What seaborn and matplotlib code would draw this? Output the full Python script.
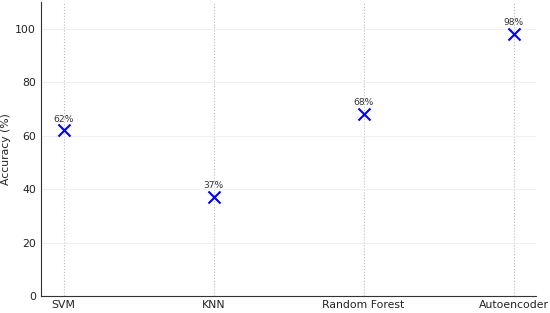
import matplotlib
matplotlib.use("Agg")
import matplotlib.pyplot as plt
import seaborn as sns
import pandas as pd

models = ["SVM", "KNN", "Random Forest", "Autoencoder"]
accuracy = [62, 37, 68, 98]
labels = ["62%", "37%", "68%", "98%"]

sns.set_style("white")
plt.rcParams['font.family'] = ['DejaVu Sans']

df = pd.DataFrame({"Model": models, "Accuracy": accuracy})

fig = plt.figure(figsize=(5.5, 3.13), dpi=100)
ax = fig.add_axes([41/550, 1-296/313, (536-41)/550, (296-2.3)/313])

sns.scatterplot(data=df, x="Model", y="Accuracy", marker="x", s=75,
                color="blue", linewidth=1.5, ax=ax, zorder=3)

for i, (m, v, t) in enumerate(zip(models, accuracy, labels)):
    ax.annotate(t, (i, v), xytext=(0, 5), textcoords="offset points",
                ha="center", va="bottom", fontsize=6.6, color="#333333")

ax.set_xlim(-0.15, 3.15)
ax.set_ylim(0, 110)
ax.set_yticks([0, 20, 40, 60, 80, 100])
ax.set_xlabel("")
ax.set_ylabel("Accuracy (%)", fontsize=7.8, color="#222222", labelpad=3)
ax.tick_params(axis="both", labelsize=7.8, colors="#222222", width=0.6)
ax.tick_params(axis="x", length=2, pad=1)
ax.tick_params(axis="y", length=0, pad=3.5)
ax.grid(axis="x", linestyle=":", color="#bbbbbb", linewidth=0.8)
ax.grid(axis="y", linestyle="-", color="#eeeeee", linewidth=0.6)
ax.set_axisbelow(True)
for s in ["top", "right"]:
    ax.spines[s].set_visible(False)
for s in ["left", "bottom"]:
    ax.spines[s].set_color("#333333")
    ax.spines[s].set_linewidth(0.8)

fig.savefig("out.png", dpi=100)
